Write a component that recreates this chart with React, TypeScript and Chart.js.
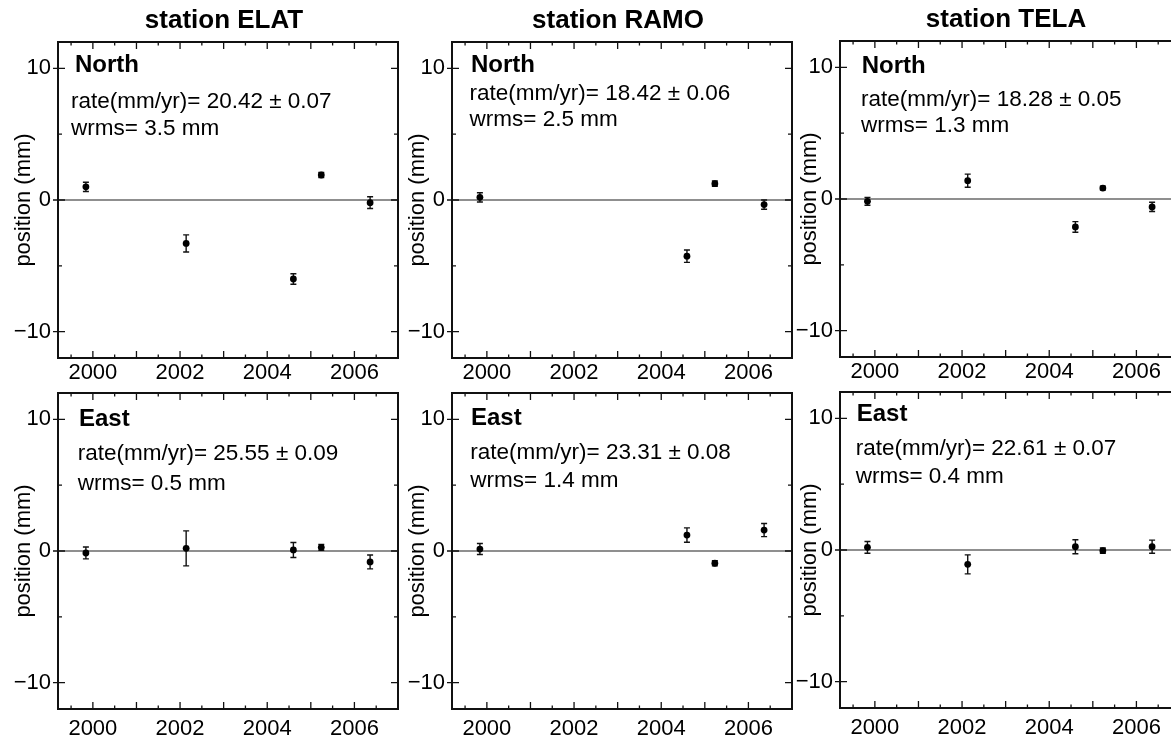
import React, { useEffect, useRef } from "react";
import { Chart, registerables } from "chart.js";

Chart.register(...registerables);

const FONT = "'Liberation Sans', Arial, Helvetica, sans-serif";

// ---------- data ----------
const STATIONS = ["ELAT", "RAMO", "TELA"];
const COMPONENTS = ["North", "East"];

const ELAT_EPOCHS = [1999.84, 2002.14, 2004.6, 2005.24, 2006.36];
const RAMO_EPOCHS = [1999.84, 2004.59, 2005.23, 2006.36];
const TELA_EPOCHS = [1999.83, 2002.13, 2004.6, 2005.23, 2006.36];

const ELAT_NORTH = [1.0, -3.3, -6.0, 1.9, -0.2];
const ELAT_NORTH_ERR = [0.35, 0.65, 0.4, 0.2, 0.45];
const ELAT_EAST = [-0.15, 0.2, 0.08, 0.28, -0.83];
const ELAT_EAST_ERR = [0.45, 1.33, 0.57, 0.22, 0.53];

const RAMO_NORTH = [0.2, -4.27, 1.24, -0.35];
const RAMO_NORTH_ERR = [0.35, 0.47, 0.2, 0.35];
const RAMO_EAST = [0.15, 1.21, -0.93, 1.59];
const RAMO_EAST_ERR = [0.42, 0.55, 0.2, 0.5];

const TELA_NORTH = [-0.18, 1.39, -2.12, 0.83, -0.6];
const TELA_NORTH_ERR = [0.3, 0.5, 0.4, 0.15, 0.35];
const TELA_EAST = [0.2, -1.09, 0.25, -0.05, 0.25];
const TELA_EAST_ERR = [0.45, 0.72, 0.53, 0.2, 0.5];

const RATES_NORTH = ["20.42 ± 0.07", "18.42 ± 0.06", "18.28 ± 0.05"];
const RATES_EAST = ["25.55 ± 0.09", "23.31 ± 0.08", "22.61 ± 0.07"];
const WRMS_NORTH = ["3.5", "2.5", "1.3"];
const WRMS_EAST = ["0.5", "1.4", "0.4"];

const X_TICKS = [2000, 2002, 2004, 2006];
const Y_TICKS = [-10, 0, 10];
const X_MIN = 1999.2;
const X_MAX = 2007.0;
const Y_MIN = -12;
const Y_MAX = 12;

// ---------- layout ----------
const CHART_LEFT = [58, 452, 840];
const COL_SHIFT = [0, 0, -1];
const Y_AXIS_W = 58;
const AREA_W = 340;
const AREA_H = 316;
const PAD_RIGHT = 4;
const Y_TITLE_PAD = [11, 11, 15];

// label offsets [labelDx, labelDy, rateDx, rateDy, wrmsDy] per row/col
const TEXT_POS = [
  [
    [17, 23.6, 13, 59.6, 86.6],
    [19, 23.6, 17.6, 51.8, 77.8],
    [21.7, 25, 21, 58.3, 85],
  ],
  [
    [21, 26.5, 19.7, 61, 90.7],
    [19, 25, 18.3, 59.8, 88],
    [16.7, 22.7, 15.7, 56.3, 84.3],
  ],
];

type PanelProps = {
  row: number;
  col: number;
  epochs: number[];
  values: number[];
  errs: number[];
  rate: string;
  wrms: string;
};

function fmtTick(v: number) {
  return v < 0 ? "\u2212" + Math.abs(v) : String(v);
}

function Panel(p: PanelProps) {
  const ref = useRef<HTMLCanvasElement>(null);
  const isTop = p.row === 0;
  const canvasLeft = CHART_LEFT[p.col] - Y_AXIS_W;
  const canvasTop = (isTop ? 0 : 363) + COL_SHIFT[p.col];
  const xAxisH = isTop ? 32 : 33;
  const padTop = isTop ? 42 : 30;
  const w = Y_AXIS_W + AREA_W + PAD_RIGHT;
  const h = padTop + AREA_H + xAxisH;

  useEffect(() => {
    const pos = TEXT_POS[p.row][p.col];
    const decor = {
      id: "panelDecor",
      beforeDatasetsDraw(chart: any) {
        const { ctx, chartArea: a, scales } = chart;
        const x = scales.x;
        const y = scales.y;
        ctx.save();
        const y0 = y.getPixelForValue(0);
        ctx.strokeStyle = "#6a6a6a";
        ctx.lineWidth = 1.5;
        ctx.beginPath();
        ctx.moveTo(a.left, y0);
        ctx.lineTo(a.right, y0);
        ctx.stroke();
        ctx.strokeStyle = "#111";
        ctx.lineWidth = 1.4;
        p.epochs.forEach((ep, i) => {
          const px = x.getPixelForValue(ep);
          const t = y.getPixelForValue(p.values[i] + p.errs[i]);
          const b = y.getPixelForValue(p.values[i] - p.errs[i]);
          ctx.beginPath();
          ctx.moveTo(px, t);
          ctx.lineTo(px, b);
          ctx.moveTo(px - 3, t);
          ctx.lineTo(px + 3, t);
          ctx.moveTo(px - 3, b);
          ctx.lineTo(px + 3, b);
          ctx.stroke();
        });
        ctx.restore();
      },
      afterDraw(chart: any) {
        const { ctx, chartArea: a, scales } = chart;
        const x = scales.x;
        const y = scales.y;
        ctx.save();
        ctx.strokeStyle = "#111";
        ctx.lineWidth = 1.3;
        ctx.beginPath();
        for (let v = 1999.5; v < X_MAX; v += 0.5) {
          if (v <= X_MIN) continue;
          const len = Math.abs(v - Math.round(v)) < 1e-6 ? 7 : 3.5;
          const px = x.getPixelForValue(v);
          ctx.moveTo(px, a.bottom);
          ctx.lineTo(px, a.bottom - len);
          ctx.moveTo(px, a.top);
          ctx.lineTo(px, a.top + len);
        }
        for (let v = -10; v <= 10; v += 5) {
          const major = v % 10 === 0;
          const len = major ? 7 : 4;
          const py = y.getPixelForValue(v);
          ctx.moveTo(a.left - (major ? 5 : 0), py);
          ctx.lineTo(a.left + len, py);
          ctx.moveTo(a.right, py);
          ctx.lineTo(a.right - len, py);
        }
        ctx.stroke();
        ctx.lineWidth = 2;
        ctx.strokeStyle = "#111";
        ctx.strokeRect(a.left, a.top, a.right - a.left, a.bottom - a.top);

        ctx.fillStyle = "#000";
        ctx.textBaseline = "middle";
        if (isTop) {
          ctx.textAlign = "center";
          ctx.font = `bold 26px ${FONT}`;
          ctx.fillText("station " + STATIONS[p.col], (a.left + a.right) / 2 - 4, a.top - 21);
        }
        ctx.textAlign = "left";
        ctx.font = `bold 24px ${FONT}`;
        ctx.fillText(COMPONENTS[p.row], a.left + pos[0], a.top + pos[1]);
        ctx.font = `22.5px ${FONT}`;
        ctx.fillText("rate(mm/yr)= " + p.rate, a.left + pos[2], a.top + pos[3]);
        ctx.fillText("wrms= " + p.wrms + " mm", a.left + pos[2], a.top + pos[4]);
        ctx.restore();
      },
    };

    const chart = new Chart(ref.current as HTMLCanvasElement, {
      type: "scatter",
      data: {
        datasets: [
          {
            data: p.epochs.map((ep, i) => ({ x: ep, y: p.values[i] })),
            pointRadius: 3.4,
            pointBackgroundColor: "#000",
            pointBorderColor: "#000",
            pointBorderWidth: 0,
            showLine: false,
          },
        ],
      },
      options: {
        animation: false,
        responsive: false,
        events: [],
        layout: { padding: { top: padTop, right: PAD_RIGHT, left: 0, bottom: 0 } },
        plugins: {
          legend: { display: false },
          tooltip: { enabled: false },
          title: { display: false },
        },
        scales: {
          x: {
            type: "linear",
            min: X_MIN,
            max: X_MAX,
            grid: { display: false, drawTicks: false },
            border: { display: false },
            afterBuildTicks: (s: any) => {
              s.ticks = X_TICKS.map((v) => ({ value: v }));
            },
            afterFit: (s: any) => {
              s.height = xAxisH;
            },
            ticks: {
              color: "#000",
              font: { family: FONT, size: 22 },
              padding: isTop ? 2 : 7,
              maxRotation: 0,
              autoSkip: false,
              callback: (v: any) => String(v),
            },
          },
          y: {
            type: "linear",
            min: Y_MIN,
            max: Y_MAX,
            grid: { display: false, drawTicks: false },
            border: { display: false },
            afterBuildTicks: (s: any) => {
              s.ticks = Y_TICKS.map((v) => ({ value: v }));
            },
            afterFit: (s: any) => {
              s.width = Y_AXIS_W;
            },
            ticks: {
              color: "#000",
              font: { family: FONT, size: 22 },
              padding: 7,
              callback: (v: any) => fmtTick(Number(v)),
            },
            title: {
              display: true,
              text: "position (mm)",
              color: "#000",
              font: { family: FONT, size: 22 },
              padding: { top: Y_TITLE_PAD[p.col], bottom: 0 },
            },
          },
        },
      },
      plugins: [decor],
    } as any);
    return () => chart.destroy();
  }, []);

  return (
    <canvas
      ref={ref}
      width={w}
      height={h}
      style={{ position: "absolute", left: canvasLeft, top: canvasTop, width: w, height: h }}
    />
  );
}

const PANELS: PanelProps[] = [
  { row: 0, col: 0, epochs: ELAT_EPOCHS, values: ELAT_NORTH, errs: ELAT_NORTH_ERR, rate: RATES_NORTH[0], wrms: WRMS_NORTH[0] },
  { row: 0, col: 1, epochs: RAMO_EPOCHS, values: RAMO_NORTH, errs: RAMO_NORTH_ERR, rate: RATES_NORTH[1], wrms: WRMS_NORTH[1] },
  { row: 0, col: 2, epochs: TELA_EPOCHS, values: TELA_NORTH, errs: TELA_NORTH_ERR, rate: RATES_NORTH[2], wrms: WRMS_NORTH[2] },
  { row: 1, col: 0, epochs: ELAT_EPOCHS, values: ELAT_EAST, errs: ELAT_EAST_ERR, rate: RATES_EAST[0], wrms: WRMS_EAST[0] },
  { row: 1, col: 1, epochs: RAMO_EPOCHS, values: RAMO_EAST, errs: RAMO_EAST_ERR, rate: RATES_EAST[1], wrms: WRMS_EAST[1] },
  { row: 1, col: 2, epochs: TELA_EPOCHS, values: TELA_EAST, errs: TELA_EAST_ERR, rate: RATES_EAST[2], wrms: WRMS_EAST[2] },
];

export default function App() {
  return (
    <div
      style={{
        position: "fixed",
        left: 0,
        top: 0,
        width: 1171,
        height: 742,
        overflow: "hidden",
        background: "#fff",
      }}
    >
      {PANELS.map((p, i) => (
        <Panel key={i} {...p} />
      ))}
    </div>
  );
}
